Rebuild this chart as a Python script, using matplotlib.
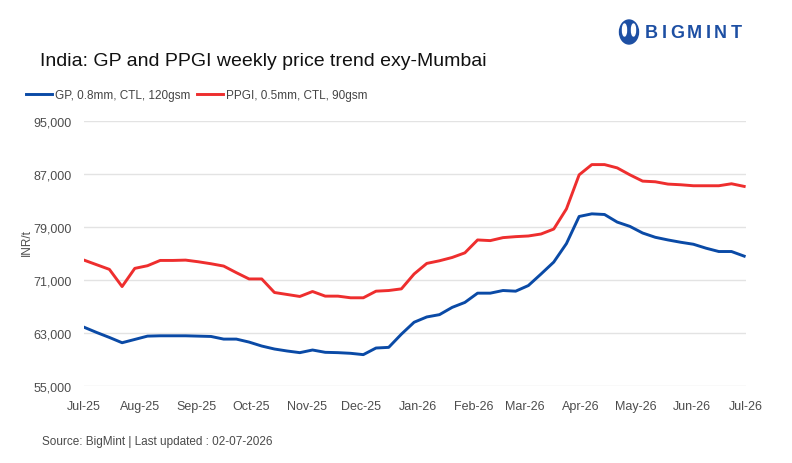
import numpy as np
import pandas as pd
import matplotlib
matplotlib.use('Agg')
import matplotlib.pyplot as plt
import matplotlib.dates as mdates
from matplotlib.ticker import FuncFormatter
from matplotlib.patches import Ellipse

plt.rcParams['font.family'] = ['Liberation Sans', 'DejaVu Sans']

# weekly prices, INR/t (ex-Mumbai)
weeks = pd.date_range('2025-07-01', periods=53, freq='7D')
gp = [63850, 63050, 62300, 61500, 62000, 62500, 62550, 62550, 62550, 62500,
      62450, 62050, 62050, 61600, 61000, 60550, 60250, 60000, 60400, 60050,
      60000, 59900, 59700, 60700, 60800, 62800, 64600, 65400, 65750, 66850,
      67600, 69000, 69000, 69400, 69300, 70150, 71900, 73700, 76500, 80600,
      81000, 80900, 79750, 79100, 78100, 77450, 77050, 76700, 76400, 75800,
      75300, 75300, 74600]
ppgi = [74000, 73300, 72600, 70000, 72750, 73150, 73950, 73950, 74000, 73750,
        73450, 73100, 72100, 71150, 71150, 69100, 68800, 68500, 69250, 68550,
        68550, 68300, 68300, 69300, 69400, 69650, 71900, 73500, 73900, 74400,
        75100, 77050, 76950, 77400, 77550, 77650, 77950, 78700, 81750, 86900,
        88450, 88450, 87950, 86900, 85950, 85850, 85500, 85400, 85250, 85250,
        85250, 85550, 85150]
y_ticks = [55000, 63000, 71000, 79000, 87000, 95000]

W, H = 792, 464
fig = plt.figure(figsize=(W / 100, H / 100), dpi=100)
ax = fig.add_axes([84 / W, 1 - 386.7 / H, (746 - 84) / W, (386.7 - 122.3) / H])

ax.plot(weeks, gp, color='#0a4aa6', lw=2.1, label='GP, 0.8mm, CTL, 120gsm')
ax.plot(weeks, ppgi, color='#ee2e2e', lw=2.1, label='PPGI, 0.5mm, CTL, 90gsm')

ax.set_xlim(pd.Timestamp('2025-07-01'), pd.Timestamp('2026-07-01'))
ax.set_ylim(55000, 95000)
ax.set_yticks(y_ticks)
ax.yaxis.set_major_formatter(FuncFormatter(lambda v, p: f'{v:,.0f}'))
ax.xaxis.set_major_locator(mdates.MonthLocator())
ax.xaxis.set_major_formatter(mdates.DateFormatter('%b-%y'))
ax.grid(axis='y', color='#e3e3e3', lw=1)
ax.set_axisbelow(True)
for s in ax.spines.values():
    s.set_visible(False)
ax.tick_params(axis='both', length=0, labelsize=9, labelcolor='#4d4d4d')
ax.tick_params(axis='y', pad=9)
ax.tick_params(axis='x', pad=10)

fig.text(27 / W, 1 - 243 / H, 'INR/t', rotation=90, ha='center', va='center',
         fontsize=8.5, color='#4d4d4d')

fig.legend(loc='center left', bbox_to_anchor=(26 / W, 1 - 96 / H), ncol=2,
           frameon=False, fontsize=8.5, labelcolor='#444444', handlelength=2.2,
           handletextpad=0.25, columnspacing=0.6, borderpad=0, borderaxespad=0)

fig.text(40 / W, 1 - 62 / H, 'India: GP and PPGI weekly price trend exy-Mumbai',
         fontsize=14, ha='left', va='center', color='#111111')
fig.text(42 / W, 1 - 442 / H, 'Source: BigMint | Last updated : 02-07-2026',
         fontsize=8.5, ha='left', va='center', color='#4a4a4a')

# logo
blue = '#1d4fa3'
fig.patches.append(Ellipse((629 / W, 1 - 33 / H), 19 / W, 24 / H, color=blue,
                           transform=fig.transFigure, figure=fig))
for dx in (-4.5, 4.5):
    fig.patches.append(Ellipse(((629 + dx) / W, 1 - 31 / H), 4 / W, 12 / H, color='white',
                               transform=fig.transFigure, figure=fig))
renderer = fig.canvas.get_renderer()
x = 645
for ch in 'BIGMINT':
    t = fig.text(x / W, 1 - 33 / H, ch, fontsize=13, fontweight='bold', color=blue,
                 ha='left', va='center')
    x += t.get_window_extent(renderer).width + 3.4

fig.savefig('out.png', dpi=100)
